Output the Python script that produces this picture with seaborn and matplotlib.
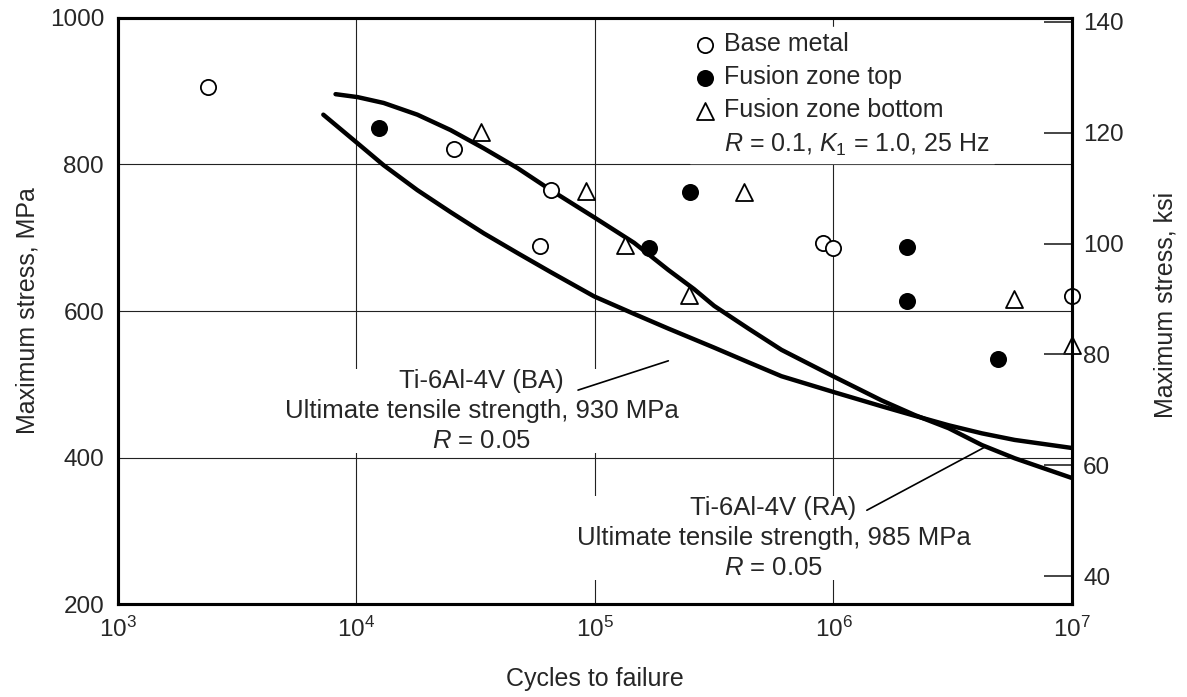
import matplotlib
matplotlib.use("Agg")
import matplotlib.pyplot as plt
import seaborn as sns
from matplotlib.lines import Line2D
from matplotlib.ticker import NullLocator

# data points (cycles, MPa)
base_cycles = [2.39e3, 2.56e4, 5.87e4, 6.53e4, 9.08e5, 9.91e5, 1.0e7]
base_mpa = [906, 821, 689, 765, 693, 686, 620]

top_cycles = [1.24e4, 1.69e5, 2.51e5, 2.03e6, 2.03e6, 4.89e6]
top_mpa = [850, 686, 762, 687, 614, 534]

bottom_cycles = [3.32e4, 9.16e4, 1.33e5, 2.48e5, 4.23e5, 5.70e6, 1.0e7]
bottom_mpa = [844, 764, 690, 622, 762, 616, 554]

# S-N curves
ra_cycles = [8.17e3, 1.01e4, 1.30e4, 1.80e4, 2.48e4, 3.42e4, 4.74e4, 6.53e4, 9.91e4,
             1.46e5, 2.03e5, 2.6e5, 3.16e5, 4.40e5, 6.05e5, 1.01e6, 1.59e6, 2.19e6,
             3.04e6, 4.19e6, 5.75e6, 1.0e7]
ra_mpa = [896, 892, 884, 868, 847, 822, 795, 765, 728, 693, 656, 630, 607, 576, 547,
          510, 478, 458, 440, 417, 399, 372]

ba_cycles = [7.26e3, 1.01e4, 1.30e4, 1.80e4, 2.48e4, 3.42e4, 4.74e4, 6.53e4, 9.91e4,
             1.46e5, 2.03e5, 3.16e5, 4.40e5, 6.05e5, 1.01e6, 1.59e6, 2.19e6,
             3.04e6, 4.19e6, 5.75e6, 1.0e7]
ba_mpa = [868, 829, 799, 765, 735, 706, 679, 653, 620, 596, 576, 550, 530, 511,
          489, 470, 457, 444, 433, 424, 413]

# leader lines for the curve labels
ba_leader_cycles = [8.49e4, 2.03e5]
ba_leader_mpa = [492, 532]
ra_leader_cycles = [1.38e6, 4.30e6]
ra_leader_mpa = [328, 414]

x_ticks = [1e3, 1e4, 1e5, 1e6, 1e7]
mpa_ticks = [200, 400, 600, 800, 1000]
ksi_ticks = [40, 60, 80, 100, 120, 140]

sns.set_style("white")
plt.rcParams["font.family"] = ["Liberation Sans", "DejaVu Sans"]
plt.rcParams["mathtext.fontset"] = "custom"
plt.rcParams["mathtext.rm"] = "Liberation Sans"
plt.rcParams["mathtext.it"] = "Liberation Sans:italic"
plt.rcParams["mathtext.bf"] = "Liberation Sans:bold"

fig = plt.figure(figsize=(11.87, 6.97), dpi=100)
ax = fig.add_axes([0.0994, 0.1334, 0.8037, 0.8408])

sns.lineplot(x=ba_cycles, y=ba_mpa, sort=False, estimator=None, color="black",
             linewidth=3.2, ax=ax, zorder=3)
sns.lineplot(x=ra_cycles, y=ra_mpa, sort=False, estimator=None, color="black",
             linewidth=3.2, ax=ax, zorder=3)

sns.scatterplot(x=base_cycles, y=base_mpa, marker="o", s=120, color="white",
                edgecolor="black", linewidth=1.3, ax=ax, zorder=5, clip_on=False,
                label="Base metal")
sns.scatterplot(x=top_cycles, y=top_mpa, marker="o", s=120, color="black",
                edgecolor="black", linewidth=1.3, ax=ax, zorder=5, clip_on=False,
                label="Fusion zone top")
sns.scatterplot(x=bottom_cycles, y=bottom_mpa, marker="^", s=150, color="white",
                edgecolor="black", linewidth=1.3, ax=ax, zorder=5, clip_on=False,
                label="Fusion zone bottom")

ax.plot(ba_leader_cycles, ba_leader_mpa, color="black", lw=1.2, zorder=4.5)
ax.plot(ra_leader_cycles, ra_leader_mpa, color="black", lw=1.2, zorder=4.5)

ax.set_xscale("log")
ax.set_xlim(1e3, 1e7)
ax.set_ylim(200, 1000)
ax.set_xticks(x_ticks)
ax.set_yticks(mpa_ticks)
ax.xaxis.set_minor_locator(NullLocator())
ax.tick_params(axis="both", length=0, labelsize=17.5)
ax.tick_params(axis="x", pad=9)
ax.tick_params(axis="y", pad=10)
ax.grid(True, which="major", color="#222222", lw=0.8)
ax.set_axisbelow(True)
for s in ax.spines.values():
    s.set_linewidth(2.2)
    s.set_color("black")

ax.set_xlabel("Cycles to failure", fontsize=18)
ax.xaxis.set_label_coords(0.5, -0.108)
ax.set_ylabel("Maximum stress, MPa", fontsize=18)
ax.yaxis.set_label_coords(-0.082, 0.5)

ax.text(3.35e4, 463, "Ti-6Al-4V (BA)\nUltimate tensile strength, 930 MPa\n$R$ = 0.05",
        ha="center", va="center", fontsize=18.5, linespacing=1.32, zorder=4,
        bbox=dict(fc="white", ec="none", pad=0))
ax.text(5.6e5, 290, "Ti-6Al-4V (RA)\nUltimate tensile strength, 985 MPa\n$R$ = 0.05",
        ha="center", va="center", fontsize=18.5, linespacing=1.32, zorder=4,
        bbox=dict(fc="white", ec="none", pad=0))

handles, labels = ax.get_legend_handles_labels()
handles.append(Line2D([], [], linestyle="none"))
labels.append("$R$ = 0.1, $K_\\mathrm{1}$ = 1.0, 25 Hz")
ax.legend(handles, labels, loc="upper left", bbox_to_anchor=(0.5996, 0.984),
          fontsize=18, frameon=True, framealpha=1, edgecolor="white",
          facecolor="white", fancybox=False, borderpad=0.2, handlelength=0.8,
          handletextpad=0.35, labelspacing=0.36, borderaxespad=0)

ax2 = ax.twinx()
ax2.set_ylim(34.95, 140.7)
ax2.set_yticks(ksi_ticks)
ax2.tick_params(axis="y", direction="in", length=20, width=1.2, labelsize=17.5, pad=8)
for s in ax2.spines.values():
    s.set_linewidth(2.2)
    s.set_color("black")
ax2.set_ylabel("Maximum stress, ksi", fontsize=18)
ax2.yaxis.set_label_coords(1.085, 0.51)

fig.savefig("out.png", dpi=100)
